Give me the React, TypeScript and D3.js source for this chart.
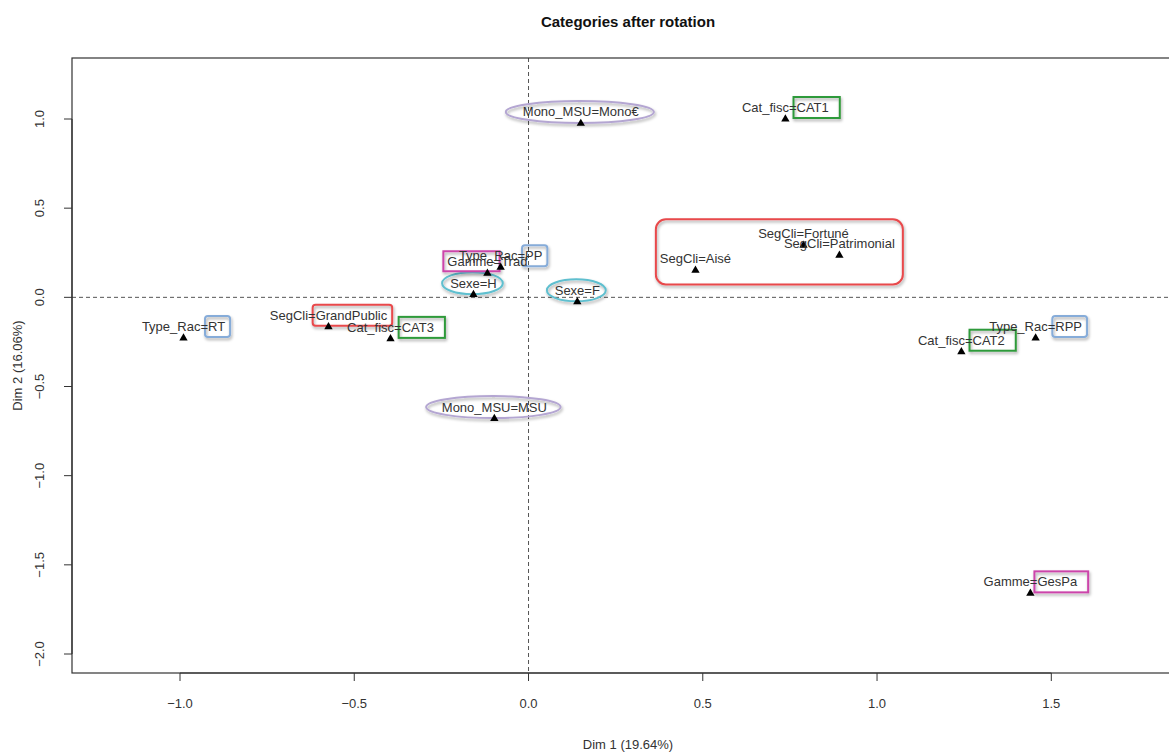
import React from "react";
import * as d3 from "d3";

const categories = [
  "Mono_MSU=Mono€",
  "Cat_fisc=CAT1",
  "SegCli=Fortuné",
  "SegCli=Patrimonial",
  "SegCli=Aisé",
  "Type_Rac=PP",
  "Gamme=Trad",
  "Sexe=H",
  "Sexe=F",
  "SegCli=GrandPublic",
  "Cat_fisc=CAT3",
  "Type_Rac=RT",
  "Mono_MSU=MSU",
  "Cat_fisc=CAT2",
  "Type_Rac=RPP",
  "Gamme=GesPa",
];
const dim1 = [0.150, 0.737, 0.789, 0.892, 0.479, -0.080, -0.118, -0.158, 0.140, -0.574, -0.396, -0.990, -0.098, 1.242, 1.455, 1.440];
const dim2 = [0.975, 1.000, 0.292, 0.235, 0.151, 0.168, 0.135, 0.015, -0.025, -0.165, -0.233, -0.228, -0.680, -0.305, -0.228, -1.660];

const xTicks = [-1.0, -0.5, 0.0, 0.5, 1.0, 1.5];
const yTicks = [-2.0, -1.5, -1.0, -0.5, 0.0, 0.5, 1.0];
const title = "Categories after rotation";
const xTitle = "Dim 1 (19.64%)";
const yTitle = "Dim 2 (16.06%)";

// annotation highlights (decoration): which labels get which shape
const annotations = [
  { labels: ["Mono_MSU=Mono€"], kind: "ellipse", color: "#b4a6d2" },
  { labels: ["Mono_MSU=MSU"], kind: "ellipse", color: "#b4a6d2" },
  { labels: ["Sexe=H"], kind: "ellipse", color: "#5fbfcf" },
  { labels: ["Sexe=F"], kind: "ellipse", color: "#5fbfcf" },
  { labels: ["Cat_fisc=CAT1"], kind: "value", color: "#2f9a3a" },
  { labels: ["Cat_fisc=CAT2"], kind: "value", color: "#2f9a3a" },
  { labels: ["Cat_fisc=CAT3"], kind: "value", color: "#2f9a3a" },
  { labels: ["Gamme=Trad"], kind: "prefix", color: "#cc44aa" },
  { labels: ["Gamme=GesPa"], kind: "value", color: "#cc44aa" },
  { labels: ["Type_Rac=PP"], kind: "valueRound", color: "#86acd9" },
  { labels: ["Type_Rac=RT"], kind: "valueRound", color: "#86acd9" },
  { labels: ["Type_Rac=RPP"], kind: "valueRound", color: "#86acd9" },
  { labels: ["SegCli=GrandPublic"], kind: "valueRound", color: "#e8484b" },
  { labels: ["SegCli=Fortuné", "SegCli=Patrimonial", "SegCli=Aisé"], kind: "group", color: "#e8484b" },
];

const W = 1169;
const H = 753;
const FONT = "'Liberation Sans', Arial, sans-serif";
const FS = 13;

const left = 72, right = 1184, top = 58, bottom = 673;

let _ctx: CanvasRenderingContext2D | null = null;
function measure(t: string): number {
  if (!_ctx) {
    const c = document.createElement("canvas");
    _ctx = c.getContext("2d");
  }
  if (!_ctx) return t.length * 7;
  _ctx.font = `${FS}px ${FONT}`;
  return _ctx.measureText(t).width;
}

export default function App() {
  const x = d3.scaleLinear().domain([-1, 1.5]).range([180, 1051.3]);
  const y = d3.scaleLinear().domain([-2, 1]).range([654, 119]);
  const tri = d3.symbol().type(d3.symbolTriangle).size(30)() as string;

  const pts = categories.map((c, i) => {
    const px = x(dim1[i]);
    const py = y(dim2[i]);
    const w = measure(c);
    const base = py - 7;
    return { c, px, py, w, base, l: px - w / 2 };
  });
  const byLabel = new Map(pts.map((p) => [p.c, p]));

  const shapes: React.ReactNode[] = [];
  annotations.forEach((a, k) => {
    const ps = a.labels.map((l) => byLabel.get(l)!).filter(Boolean);
    if (!ps.length) return;
    const p = ps[0];
    const common = { fill: "none", stroke: a.color, strokeWidth: 2, filter: "url(#shadow)" } as any;
    if (a.kind === "ellipse") {
      shapes.push(
        <ellipse key={k} cx={p.px - 1} cy={p.base - 4.5} rx={p.w * 0.63 + 1} ry={11} {...common} />
      );
    } else if (a.kind === "value" || a.kind === "valueRound") {
      const eq = p.c.indexOf("=") + 1;
      const pre = measure(p.c.slice(0, eq));
      const vw = measure(p.c.slice(eq));
      shapes.push(
        <rect key={k} x={p.l + pre - 3} y={p.base - 15} width={vw + (a.kind === "value" ? 14 : 8)} height={21}
          rx={a.kind === "valueRound" ? 3 : 0} {...common} />
      );
    } else if (a.kind === "prefix") {
      const eq = p.c.indexOf("=");
      const pre = measure(p.c.slice(0, eq));
      shapes.push(
        <rect key={k} x={p.l - 4} y={p.base - 15} width={pre + 10} height={20} {...common} />
      );
    } else if (a.kind === "group") {
      const x0 = d3.min(ps, (q) => q.l)! - 4;
      const x1 = d3.max(ps, (q) => q.l + q.w)! + 8;
      const y0 = d3.min(ps, (q) => q.base - 10)! - 9;
      const y1 = d3.max(ps, (q) => q.py + 4)! + 10;
      shapes.push(
        <rect key={k} x={x0} y={y0} width={x1 - x0} height={y1 - y0} rx={10} {...common} />
      );
    }
  });

  return (
    <svg width={W} height={H} style={{ position: "absolute", left: 0, top: 0, background: "#fff" }}
      fontFamily={FONT}>
      <defs>
        <filter id="shadow" x="-20%" y="-50%" width="140%" height="200%">
          <feDropShadow dx="1" dy="2" stdDeviation="1.5" floodColor="#000" floodOpacity="0.35" />
        </filter>
      </defs>
      <rect x={0} y={0} width={W} height={H} fill="#fff" />
      <text x={(left + right) / 2} y={27} textAnchor="middle" fontWeight="bold" fontSize={15} fill="#111">
        {title}
      </text>
      {/* reference lines */}
      <line x1={left} x2={right} y1={y(0)} y2={y(0)} stroke="#555" strokeDasharray="4,3" />
      <line x1={x(0)} x2={x(0)} y1={top} y2={bottom} stroke="#555" strokeDasharray="4,3" />
      {/* frame */}
      <rect x={left} y={top} width={right - left} height={bottom - top} fill="none" stroke="#333" strokeWidth={1.2} />
      {/* x axis */}
      <line x1={x(xTicks[0])} x2={x(xTicks[xTicks.length - 1])} y1={bottom} y2={bottom} stroke="#333" strokeWidth={1.2} />
      {xTicks.map((t) => (
        <g key={"xt" + t}>
          <line x1={x(t)} x2={x(t)} y1={bottom} y2={bottom + 8} stroke="#333" />
          <text x={x(t)} y={708} textAnchor="middle" fontSize={FS} fill="#333">{d3.format(".1f")(t)}</text>
        </g>
      ))}
      {/* y axis */}
      <line x1={left} x2={left} y1={y(yTicks[0])} y2={y(yTicks[yTicks.length - 1])} stroke="#333" strokeWidth={1.2} />
      {yTicks.map((t) => (
        <g key={"yt" + t}>
          <line x1={left - 8} x2={left} y1={y(t)} y2={y(t)} stroke="#333" />
          <text transform={`translate(${44},${y(t)}) rotate(-90)`} textAnchor="middle" fontSize={FS} fill="#333">
            {d3.format(".1f")(t)}
          </text>
        </g>
      ))}
      <text x={(left + right) / 2} y={749} textAnchor="middle" fontSize={FS} fill="#333">{xTitle}</text>
      <text transform={`translate(${22},${(top + bottom) / 2}) rotate(-90)`} textAnchor="middle" fontSize={FS} fill="#333">
        {yTitle}
      </text>
      {/* annotations */}
      {shapes}
      {/* points and labels */}
      {pts.map((p) => (
        <g key={p.c}>
          <path d={tri} transform={`translate(${p.px},${p.py})`} fill="#000" />
          <text x={p.px} y={p.base} textAnchor="middle" fontSize={FS} fill="#333">{p.c}</text>
        </g>
      ))}
    </svg>
  );
}
